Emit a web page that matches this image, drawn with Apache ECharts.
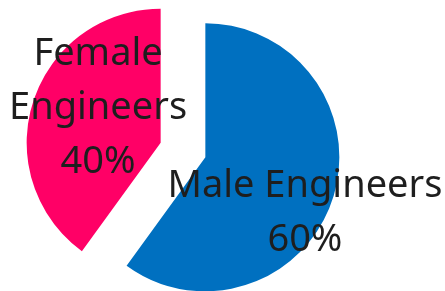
<!DOCTYPE html>
<html>
<head>
<meta charset="utf-8">
<script src="https://cdn.jsdelivr.net/npm/echarts@6/dist/echarts.min.js"></script>
<style>
  html, body { margin: 0; padding: 0; background: #fff; }
  #chart { width: 445px; height: 291px; }
</style>
</head>
<body>
<div id="chart"></div>
<script>
// chart values
var categories = ['Male Engineers', 'Female Engineers'];
var shares = [60, 40];
var colors = ['#0070C0', '#FF0066'];

var chart = echarts.init(document.getElementById('chart'));

// Excel-like label placement: shift from the default inside spot
var labelShift = [[33, 34], [4, -13]];

var data = categories.map(function (name, i) {
  return {
    name: name,
    value: shares[i],
    selected: true,
    itemStyle: { color: colors[i] }
  };
});

var option = {
  animation: false,
  series: [
    {
      type: 'pie',
      center: [183, 150],
      radius: 134,
      startAngle: 90,
      clockwise: true,
      selectedMode: 'multiple',
      selectedOffset: 23.5,
      avoidLabelOverlap: false,
      emphasis: { disabled: true },
      label: {
        show: true,
        position: 'inside',
        formatter: function (p) {
          // the smaller slice wraps its name like Excel does
          var name = p.dataIndex === 1 ? p.name.replace(' ', '\n') : p.name;
          return name + '\n' + Math.round(p.percent) + '%';
        },
        fontFamily: 'Noto Sans',
        fontSize: 38,
        lineHeight: 54,
        color: '#1e1e1e',
        align: 'center'
      },
      labelLayout: function (params) {
        var s = labelShift[params.dataIndex];
        return { dx: s[0], dy: s[1] };
      },
      labelLine: { show: false },
      data: data
    }
  ]
};

chart.setOption(option);
</script>
</body>
</html>
